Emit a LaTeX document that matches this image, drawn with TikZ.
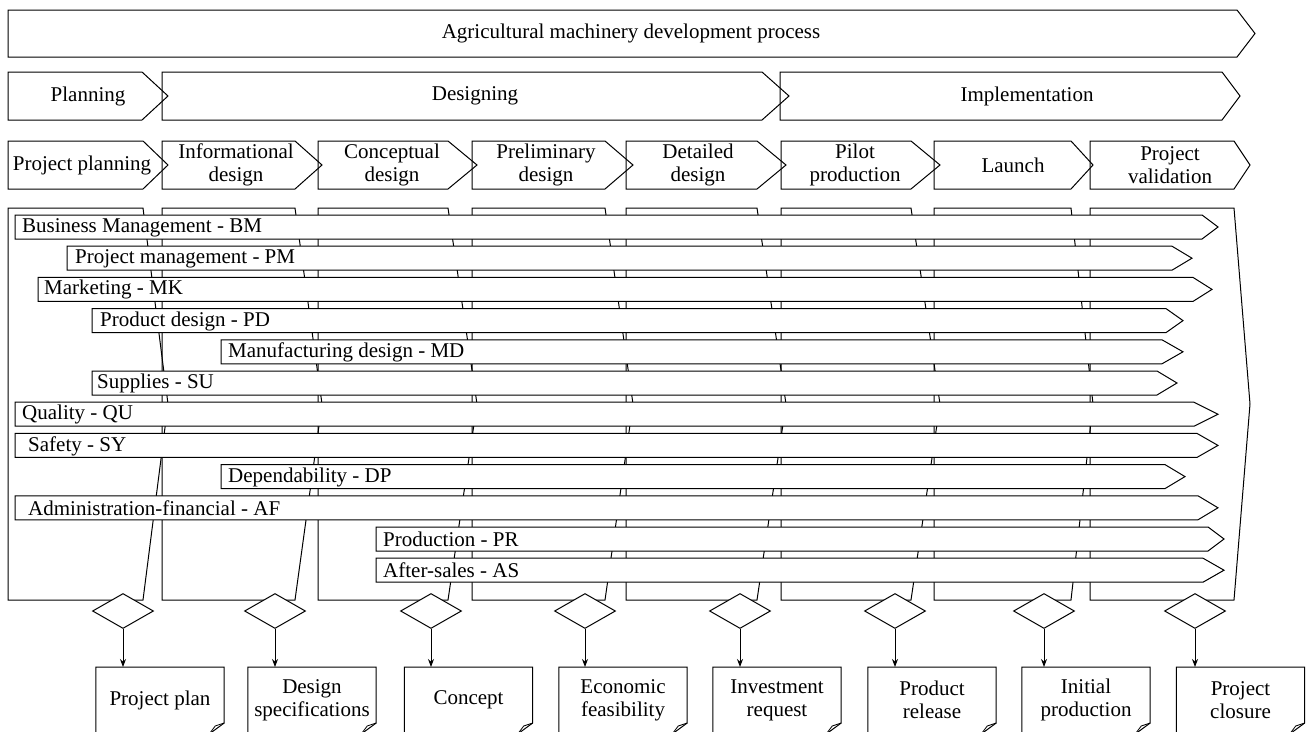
\documentclass[tikz,border=0pt]{standalone}
\usepackage{fontspec}
\setmainfont{Liberation Serif}
\usetikzlibrary{shapes.geometric,arrows.meta,calc}
\tikzset{
  outl/.style={draw=black, line width=1pt, line join=miter},
  barshape/.style={outl, fill=white},
  lbl/.style={inner sep=0pt, align=center, font=\fontsize{21}{23}\selectfont},
  decision/.style={diamond, draw=black, fill=white, line width=1pt, inner sep=0pt,
    minimum width=61pt, minimum height=35pt},
  docnode/.style={inner sep=0pt, minimum width=128pt, minimum height=66pt, align=center,
    font=\fontsize{21}{23}\selectfont, anchor=north},
  arr/.style={line width=1pt, -{Stealth[length=8pt,width=6pt]}},
}
% name, left, top, corner, point, bottom, text x, text
\newcommand\mkpent[8]{%
  \draw[outl] (#2,#3) -- (#4,#3) -- (#5,{(#3+#6)/2}) -- (#4,#6) -- (#2,#6) -- cycle;
  \node[lbl] (#1) at (#7,{(#3+#6)/2}) {#8};}
% name, left, top, corner, point, inset, text
\newcommand\funcbar[7]{%
  \draw[barshape] (#2,#3) -- (#4,#3) -- (#5,{#3+12}) -- (#4,{#3+24}) -- (#2,{#3+24}) -- cycle;
  \node[lbl, anchor=west] (#1) at ({#2+#6},{#3+12.5}) {#7};}
% column: left, corner, point
\newcommand\mkcol[3]{%
  \draw[outl] (#1,208) -- (#2,208) -- (#3,404) -- (#2,600) -- (#1,600) -- cycle;}
% document outline from node name
\newcommand\mkdoc[1]{%
  \draw[outl] ($(#1.north west)+(0,75)$) -- (#1.north west) -- (#1.north east) -- ($(#1.north east)+(0,56)$) -- ++(-15,11);
  \draw[outl, line width=0.8pt] ($(#1.north east)+(0,56)$) -- ++(-9,3) -- ++(-6,8);}
\begin{document}
\begin{tikzpicture}[x=1pt,y=-1pt]
\useasboundingbox (0,0) rectangle (1309,731);
\clip (0,0) rectangle (1309,731);
% top process arrow
\mkpent{title}{8}{10}{1237}{1255}{57}{631}{Agricultural machinery development process}
% macro phases
\mkpent{planning}{8}{72}{142}{168}{120}{88}{Planning}
\mkpent{designing}{162}{72}{762}{789}{120}{475}{Designing}
\mkpent{implementation}{780}{72}{1222}{1240}{120}{1027}{Implementation}
% phases
\mkpent{ph1}{8}{141}{143}{168}{189}{82}{Project planning}
\mkpent{ph2}{162}{141}{295}{322}{189}{236}{Informational\\design}
\mkpent{ph3}{318}{141}{448}{477}{189}{392}{Conceptual\\design}
\mkpent{ph4}{472}{141}{605}{633}{189}{546}{Preliminary\\design}
\mkpent{ph5}{626}{141}{757}{786}{189}{698}{Detailed\\design}
\mkpent{ph6}{781}{141}{911}{940}{189}{855}{Pilot\\production}
\mkpent{ph7}{934}{141}{1071}{1093}{189}{1013}{Launch}
\mkpent{ph8}{1090}{141}{1234}{1250}{189}{1170}{Project\\validation}
% columns
\mkcol{8}{143}{168}
\mkcol{162}{295}{322}
\mkcol{318}{448}{477}
\mkcol{472}{605}{633}
\mkcol{626}{757}{786}
\mkcol{781}{911}{940}
\mkcol{934}{1071}{1093}
\mkcol{1090}{1234}{1250}
% functional bars
\funcbar{bm}{15}{215}{1202}{1218}{7}{Business Management - BM}
\funcbar{pm}{67}{246.2}{1172}{1192}{8}{Project management - PM}
\funcbar{mk}{38}{277.4}{1193}{1212}{6}{Marketing - MK}
\funcbar{pdb}{92}{308.6}{1166}{1183}{8}{Product design - PD}
\funcbar{md}{221}{339.8}{1162}{1183}{7}{Manufacturing design - MD}
\funcbar{su}{92}{371}{1157}{1177}{5}{Supplies - SU}
\funcbar{qu}{15}{402.2}{1194}{1218}{7}{Quality - QU}
\funcbar{sy}{15}{433.4}{1197}{1218}{13}{Safety - SY}
\funcbar{dp}{221}{464.6}{1165}{1185}{7}{Dependability - DP}
\funcbar{af}{15}{495.8}{1198}{1218}{13}{Administration-financial - AF}
\funcbar{pr}{376}{527}{1208}{1224}{7}{Production - PR}
\funcbar{as}{376}{558.2}{1203}{1224}{7}{After-sales - AS}
% gates
\node[decision] (g1) at (123,611) {};
\node[decision] (g2) at (275,611) {};
\node[decision] (g3) at (431,611) {};
\node[decision] (g4) at (585,611) {};
\node[decision] (g5) at (740,611) {};
\node[decision] (g6) at (895,611) {};
\node[decision] (g7) at (1044,611) {};
\node[decision] (g8) at (1195,611) {};
% deliverables
\node[docnode] (d1) at (160,667) {Project plan};
\node[docnode] (d2) at (312,667) {Design\\specifications};
\node[docnode] (d3) at (468.5,667) {Concept};
\node[docnode] (d4) at (623,667) {Economic\\feasibility};
\node[docnode] (d5) at (777,667) {Investment\\request};
\node[docnode] (d6) at (932,667) {Product\\release};
\node[docnode] (d7) at (1086,667) {Initial\\production};
\node[docnode] (d8) at (1240.5,667) {Project\\closure};
\foreach \i in {1,...,8}{
  \mkdoc{d\i}
  \draw[arr] (g\i.south) -- (g\i.south |- d\i.north);
}
\end{tikzpicture}
\end{document}
